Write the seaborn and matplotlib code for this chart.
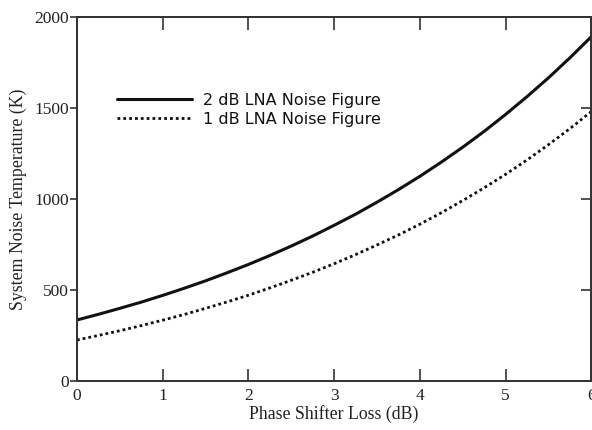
import matplotlib
matplotlib.use("Agg")
import matplotlib.pyplot as plt
import seaborn as sns
import pandas as pd

# Data
loss_db = [0, 0.25, 0.5, 0.75, 1, 1.25, 1.5, 1.75, 2, 2.25, 2.5, 2.75, 3,
           3.25, 3.5, 3.75, 4, 4.25, 4.5, 4.75, 5, 5.25, 5.5, 5.75, 6]
temp_nf2 = [335, 366, 399, 433, 470, 509, 550, 594, 640, 689, 741, 796, 855,
            916, 982, 1051, 1124, 1202, 1284, 1371, 1464, 1562, 1665, 1775, 1891]
temp_nf1 = [225, 250, 276, 304, 334, 365, 399, 434, 471, 511, 553, 597, 644,
            694, 747, 802, 861, 924, 991, 1061, 1135, 1214, 1298, 1386, 1480]
series_labels = ["2 dB LNA Noise Figure", "1 dB LNA Noise Figure"]
x_ticks = [0, 1, 2, 3, 4, 5, 6]
y_ticks = [0, 500, 1000, 1500, 2000]

sns.set_theme(style="white")
plt.rcParams['font.family'] = ['Liberation Serif', 'DejaVu Serif']

df1 = pd.DataFrame({"x": loss_db, "y": temp_nf2})
df2 = pd.DataFrame({"x": loss_db, "y": temp_nf1})

fig = plt.figure(figsize=(5.92, 4.30), dpi=100)
ax = fig.add_axes([0.130, 0.114, 0.869, 0.847])

sns.lineplot(data=df1, x="x", y="y", ax=ax, color="#111111", linewidth=2.2,
             label=series_labels[0])
sns.lineplot(data=df2, x="x", y="y", ax=ax, color="#111111", linewidth=2.0,
             linestyle=(0, (1, 1.1)), label=series_labels[1])

ax.set_xlim(0, 6)
ax.set_ylim(0, 2000)
ax.set_xticks(x_ticks)
ax.set_yticks(y_ticks)
ax.set_xticklabels([str(t) for t in x_ticks], fontsize=12.5)
ax.set_yticklabels([str(t) for t in y_ticks], fontsize=12.5)

ax.tick_params(axis='x', direction='in', top=True, bottom=True, length=9,
               width=1.2, pad=5, color='#333333', labelcolor='#222222')
ax.tick_params(axis='y', direction='out', left=True, right=False, length=5,
               width=1.2, pad=1, color='#333333', labelcolor='#222222')

ax2 = ax.twinx()
ax2.set_ylim(0, 2000)
ax2.set_yticks(y_ticks)
ax2.tick_params(axis='y', direction='in', right=True, labelright=False,
                length=7, width=1.2, color='#333333')
ax2.grid(False)

for a in (ax, ax2):
    for s in a.spines.values():
        s.set_color('#333333')
        s.set_linewidth(1.3)
        s.set_visible(True)

ax.set_xlabel("Phase Shifter Loss (dB)", fontsize=12.8, color='#222222', labelpad=1)
ax.set_ylabel("System Noise Temperature (K)", fontsize=12.8, color='#222222', labelpad=5)

leg = ax.legend(loc='upper left', bbox_to_anchor=(0.05, 0.83), frameon=False,
                handlelength=4.7, handletextpad=0.7, labelspacing=0.25,
                prop={'family': 'DejaVu Sans', 'size': 11.5})
for t in leg.get_texts():
    t.set_color('#111111')

fig.savefig("out.png", dpi=100, facecolor='white')
